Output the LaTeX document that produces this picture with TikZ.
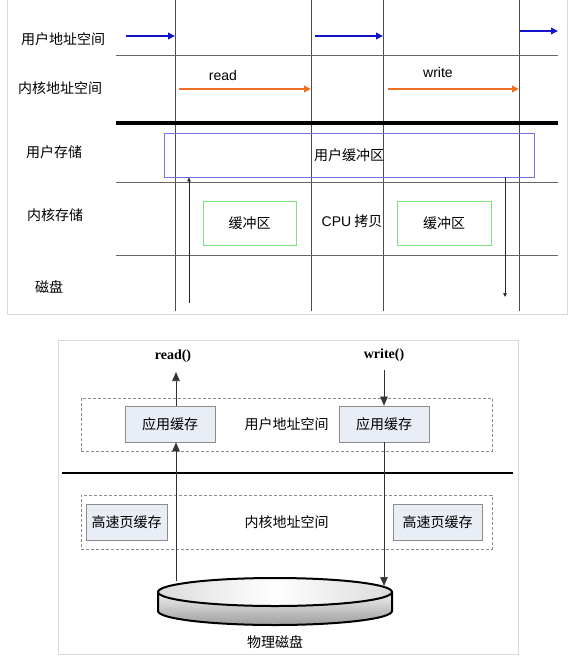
\documentclass[tikz,border=0pt]{standalone}
\usepackage{fontspec}
\setmainfont{Noto Sans CJK SC}
\newfontfamily\arial{Liberation Sans}
\newfontfamily\tnr{Liberation Serif}
\usetikzlibrary{arrows.meta,positioning}
\definecolor{usrblue}{RGB}{20,20,205}
\definecolor{krnorange}{RGB}{240,112,35}
\definecolor{bufblue}{RGB}{115,115,230}
\definecolor{bufgreen}{RGB}{125,228,125}
\definecolor{cachefill}{RGB}{233,237,245}

\begin{document}
\begin{tikzpicture}
[x=1bp,y=-1bp,font=\fontsize{14bp}{16bp}\selectfont,
 frame/.style = {draw=black!15, line width=1bp},
 lane/.style = {draw=black!70, line width=0.8bp},
 row/.style = {draw=black!60, line width=0.8bp},
 usr/.style = {draw=usrblue, line width=2.4bp, -{Triangle[length=7bp,width=6.5bp]}},
 krn/.style = {draw=krnorange, line width=2.2bp, -{Triangle[length=7bp,width=6.5bp]}},
 io/.style = {draw=black!85, line width=0.6bp, -{Triangle[length=4bp,width=3.5bp]}},
 ubuf/.style = {draw=bufblue, line width=0.8bp, minimum width=370bp, minimum height=44bp},
 kbuf/.style = {draw=bufgreen, line width=0.8bp, minimum width=93bp, minimum height=44bp},
 zone/.style = {draw=black!45, dash pattern=on 3bp off 2bp, line width=0.7bp, minimum width=411bp, minimum height=53bp},
 cache/.style = {draw=black!45, fill=cachefill, line width=0.8bp, minimum width=90bp, minimum height=36bp},
 bigio/.style = {draw=black!80, line width=0.6bp, -{Triangle[length=9bp,width=7.5bp]}},
 call/.style = {font=\fontsize{14bp}{16bp}\selectfont\tnr\bfseries},]
\useasboundingbox (0,0) rectangle (571,663);

% top: time lanes
\draw[frame] (7,0) -- (7,314) -- (567,314) -- (567,0);
\foreach \x [count=\i] in {175,311,383,519}
  {\coordinate (v\i) at (\x,0);
   \draw[lane] (v\i) -- ++(0,311);}
\foreach \y in {55,182,255}
  \draw[row] (116,\y) -- (558,\y);
\draw[line width=3bp] (116,123) -- (558,123);

\node (lua) at (63,39) {用户地址空间};
\node (lka) at (60,88) {内核地址空间};
\node (lus) at (54,152) {用户存储};
\node (lks) at (55,215) {内核存储};
\node (ldk) at (49,287) {磁盘};

\coordinate (u1) at (126,36);
\coordinate (u2) at (315,36);
\coordinate (u3) at (520,31);
\draw[usr] (u1) -- (u1 -| v1);
\draw[usr] (u2) -- (u2 -| v3);
\draw[usr] (u3) -- ++(38,0);
\coordinate (k1) at (179,89);
\coordinate (k2) at (388,89);
\draw[krn] (k1) -- (k1 -| v2);
\draw[krn] (k2) -- (k2 -| v4);
\node[font=\fontsize{14bp}{16bp}\selectfont\arial] (rd) at (223,75) {read};
\node[font=\fontsize{14bp}{16bp}\selectfont\arial] (wr) at (438,72) {write};

\node[ubuf] (ubuf) at (349,155) {用户缓冲区};
\node[kbuf] (kb1) at (249.5,223) {缓冲区};
\node[kbuf,minimum width=94bp] (kb2) at (444,223) {缓冲区};
\node (cpu) at (352,221) {{\arial CPU} 拷贝};
\coordinate (rdsk) at (189,303);
\coordinate (wdsk) at (505,297);
\draw[io] (rdsk) -- (rdsk |- ubuf.south);
\draw[io] (wdsk |- ubuf.south) -- (wdsk);

% bottom: page cache
\draw[frame] (58,340) rectangle (518,654);
\node[zone] (uz) at (286.5,424.5) {用户地址空间};
\node[zone,minimum height=54bp] (kz) at (286.5,522) {内核地址空间};
\node[cache] (app1) at (170,424) {应用缓存};
\node[cache] (app2) at (384,424) {应用缓存};
\node[cache,minimum width=81bp] (pc1) at (126.5,522) {高速页缓存};
\node[cache,minimum width=89bp] (pc2) at (437.5,522) {高速页缓存};
\draw[line width=2.5bp] (62,473) -- (513,473);

\coordinate (disk) at (275,592);
\shade[top color=black!6, bottom color=black!38] (158,592) -- (158,611)
  arc[start angle=180, end angle=0, x radius=117, y radius=14] -- (392,592) -- cycle;
\draw[line width=2bp] (158,592) -- (158,611)
  arc[start angle=180, end angle=0, x radius=117, y radius=14] -- (392,592);
\draw[line width=2bp, left color=black!14, right color=black!14, middle color=white]
  (disk) ellipse[x radius=117, y radius=14];
\node (dkl) at (275,642) {物理磁盘};

\node[call] (rcall) at (173,356) {read()};
\node[call] (wcall) at (384,355) {write()};
\coordinate (rdisk) at (176,581);
\coordinate (wdisk) at (384,586);
\draw[bigio] (rdisk) -- (rdisk |- app1.south);
\draw[bigio] (rdisk |- app1.north) -- (rdisk |- 0,372);
\draw[bigio] (wdisk |- 0,370) -- (app2.north);
\draw[bigio] (app2.south) -- (wdisk);
\end{tikzpicture}
\end{document}
